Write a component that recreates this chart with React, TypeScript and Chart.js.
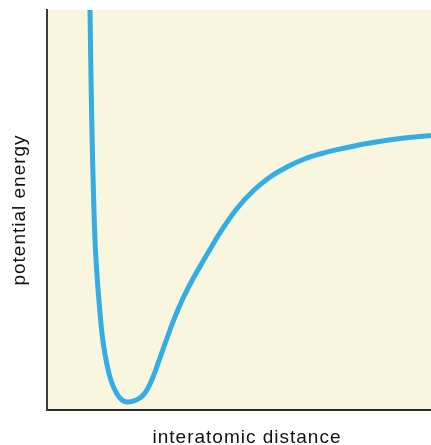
import React, { useEffect, useRef } from "react";
import { Chart, registerables } from "chart.js";

Chart.register(...registerables);

// interatomic distance (arbitrary units) and potential energy (arbitrary units)
const distance = [1.107, 1.12, 1.143, 1.172, 1.208, 1.25, 1.302, 1.367, 1.453, 1.563, 1.68, 1.823, 1.953, 2.083, 2.24, 2.396, 2.552, 2.708, 2.891, 3.047, 3.203, 3.359, 3.542, 3.802, 4.063, 4.297, 4.531, 4.948, 5.365, 5.807, 6.25, 6.667, 7.109, 7.552, 8.333, 9.193, 10.0];
const energy = [10.75, 10.0, 8.5, 6.925, 5.5, 4.25, 3.375, 2.575, 1.75, 1.125, 0.7, 0.4, 0.25, 0.2, 0.22, 0.288, 0.425, 0.7, 1.163, 1.588, 2.0, 2.39, 2.793, 3.28, 3.718, 4.1, 4.47, 5.038, 5.475, 5.825, 6.075, 6.263, 6.4, 6.508, 6.663, 6.788, 6.863];

const xTitle = "interatomic distance";
const yTitle = "potential energy";

const FONT = "'Liberation Sans', Arial, Helvetica, sans-serif";

export default function App() {
  const ref = useRef<HTMLCanvasElement | null>(null);

  useEffect(() => {
    document.body.style.margin = "0";
    const canvas = ref.current;
    if (!canvas) return;

    const bgPlugin = {
      id: "plotBg",
      beforeDraw(chart: any) {
        const { ctx, chartArea } = chart;
        (ctx as any).letterSpacing = "1px";
        if (!chartArea) return;
        ctx.save();
        ctx.fillStyle = "#f8f6de";
        ctx.fillRect(chartArea.left, chartArea.top, chartArea.right - chartArea.left, chartArea.bottom - chartArea.top);
        ctx.restore();
      },
      afterLayout(chart: any) {
        // the original plot extends past the cropped right edge; center the title as it did
        const xs = chart.scales.x;
        if (xs) xs.right = xs.right + 16;
      },
    };

    const chart = new Chart(canvas, {
      type: "line",
      data: {
        datasets: [
          {
            data: distance.map((d, i) => ({ x: d, y: energy[i] })),
            borderColor: "#35ade2",
            borderWidth: 5,
            pointRadius: 0,
            fill: false,
            tension: 0.4,
            clip: 0,
          },
        ],
      },
      options: {
        animation: false,
        responsive: false,
        maintainAspectRatio: false,
        layout: { padding: { top: 10, left: 0, right: 0, bottom: 0 } },
        plugins: { legend: { display: false }, tooltip: { enabled: false } },
        scales: {
          x: {
            type: "linear",
            min: 0,
            max: 10,
            grid: { display: false },
            ticks: { display: false },
            border: { color: "#2b2b2b", width: 2 },
            title: {
              display: true,
              text: xTitle,
              color: "#111",
              font: { family: FONT, size: 19 },
              padding: { top: 0, bottom: -4 },
            },
            afterFit: (s: any) => {
              s.height = 35;
            },
          },
          y: {
            type: "linear",
            min: 0,
            max: 10,
            grid: { display: false },
            ticks: { display: false },
            border: { color: "#3a3a3a", width: 2 },
            title: {
              display: true,
              text: yTitle,
              color: "#111",
              font: { family: FONT, size: 19 },
              padding: { top: 8, bottom: 0 },
            },
            afterFit: (s: any) => {
              s.width = 47;
            },
          },
        },
      },
      plugins: [bgPlugin],
    } as any);

    return () => chart.destroy();
  }, []);

  return (
    <div style={{ width: 431, height: 445, overflow: "hidden" }}>
      <canvas ref={ref} width={431} height={445} style={{ display: "block" }} />
    </div>
  );
}
